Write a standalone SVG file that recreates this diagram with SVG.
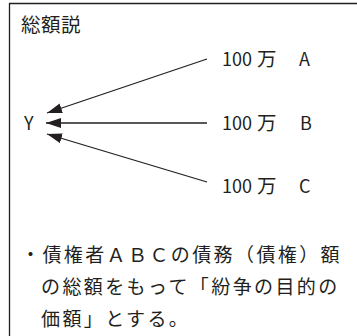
<svg xmlns="http://www.w3.org/2000/svg" width="357" height="336" viewBox="0 0 357 336">
<style>
  text { font-family: "Noto Sans CJK JP", "Noto Sans", sans-serif; fill: #231f20; }
  .lbl { font-size: 18px; }
  .kan { font-size: 19.5px; }
  .body { font-size: 19px; letter-spacing: 2.4px; }
  .title { font-size: 19.5px; letter-spacing: 0.5px; }
  .conn line { stroke: #231f20; stroke-width: 1.3; marker-end: url(#ah); }
</style>
<defs>
  <marker id="ah" markerUnits="userSpaceOnUse" markerWidth="16" markerHeight="11" refX="15" refY="5" orient="auto" viewBox="0 0 16 10">
    <path d="M0,0 L15,5 L0,10 z" fill="#231f20"/>
  </marker>
</defs>
<rect width="357" height="336" fill="#ffffff"/>
<path d="M9.5,336 V3.5 H357" fill="none" stroke="#231f20" stroke-width="1.3"/>
<g id="title"><text class="title" x="21" y="32">総額説</text></g>
<g id="nodeY"><text class="lbl" x="24" y="129.5">Y</text></g>
<g id="nodeA"><text class="lbl" x="222" y="65.5">100<tspan class="kan" x="257">万</tspan><tspan x="299">A</tspan></text></g>
<g id="nodeB"><text class="lbl" x="222" y="129.5">100<tspan class="kan" x="257">万</tspan><tspan x="300">B</tspan></text></g>
<g id="nodeC"><text class="lbl" x="222" y="192.5">100<tspan class="kan" x="257">万</tspan><tspan x="299">C</tspan></text></g>
<g id="connectors" class="conn">
  <line x1="207" y1="59" x2="47" y2="113"/>
  <line x1="207" y1="123" x2="46" y2="123"/>
  <line x1="207" y1="182" x2="47" y2="134"/>
</g>
<g id="note">
  <text class="body" x="21" y="262">・債権者ＡＢＣの債務（債権）額</text>
  <text class="body" x="41" y="294">の総額をもって「紛争の目的の</text>
  <text class="body" x="41" y="326">価額」とする。</text>
</g>
</svg>
